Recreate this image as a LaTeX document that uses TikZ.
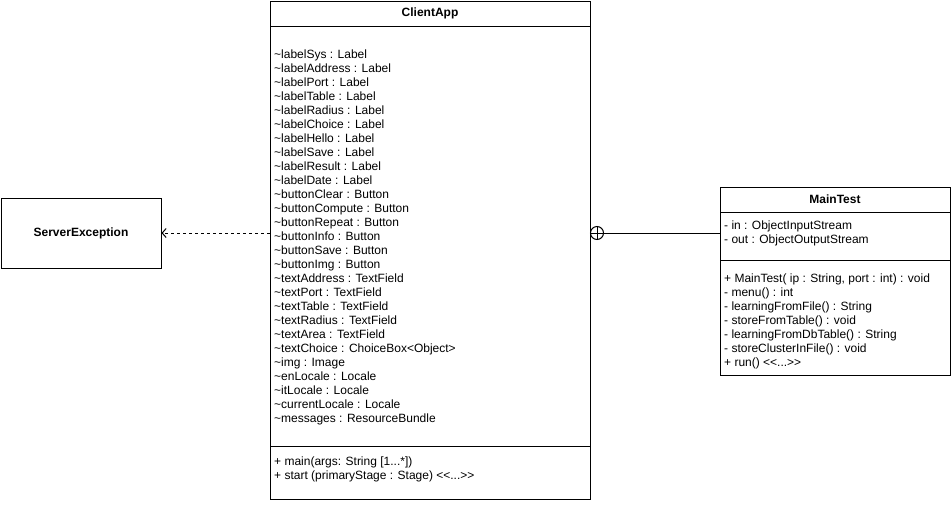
\documentclass[tikz,border=0pt]{standalone}
\usepackage{fontspec}
\setmainfont{Liberation Sans}[Ligatures=TeXOff]
\usepackage{tikz}
\usetikzlibrary{arrows.meta,shapes}

\tikzset{
	every node/.style={font=\fontsize{12}{14}\selectfont},
	cls/.style={draw, line width=1pt, inner sep=0pt},
	title/.style={font=\fontsize{12}{14}\selectfont\bfseries},
	mem/.style={anchor=west, inner sep=0pt, text height=10pt, text depth=2pt},
	dep/.style={line width=1pt, dash pattern=on 3pt off 3pt, -{Straight Barb[length=4pt,width=9pt]}},
	nest/.style={draw, circle, line width=1pt, inner sep=0pt, minimum size=13pt},
	link/.style={line width=1pt}
}

\begin{document}
\begin{tikzpicture}[x=1pt,y=-1pt]
	\useasboundingbox (0,0) rectangle (951,504);

	\node[cls, minimum width=320pt, minimum height=498pt] (app) at (430,250) {};
	\node[cls, minimum width=160pt, minimum height=70pt] (exc) at (81,233) {};
	\node[cls, minimum width=230pt, minimum height=188pt] (mt) at (835,281) {};

	\draw[line width=1pt] (270,26) -- (590,26);
	\draw[line width=1pt] (270,446) -- (590,446);
	\draw[line width=1pt] (720,212) -- (950,212);
	\draw[line width=1pt] (720,260) -- (950,260);

	\node[title] (t1) at (430,13) {ClientApp};
	\node[title] (t2) at (81,233) {ServerException};
	\node[title] (t3) at (835,199) {MainTest};

	\node[mem] (a1) at (274,54) {\textasciitilde labelSys : Label};
	\node[mem] (a2) at (274,68) {\textasciitilde labelAddress : Label};
	\node[mem] (a3) at (274,82) {\textasciitilde labelPort : Label};
	\node[mem] (a4) at (274,96) {\textasciitilde labelTable : Label};
	\node[mem] (a5) at (274,110) {\textasciitilde labelRadius : Label};
	\node[mem] (a6) at (274,124) {\textasciitilde labelChoice : Label};
	\node[mem] (a7) at (274,138) {\textasciitilde labelHello : Label};
	\node[mem] (a8) at (274,152) {\textasciitilde labelSave : Label};
	\node[mem] (a9) at (274,166) {\textasciitilde labelResult : Label};
	\node[mem] (a10) at (274,180) {\textasciitilde labelDate : Label};
	\node[mem] (a11) at (274,194) {\textasciitilde buttonClear : Button};
	\node[mem] (a12) at (274,208) {\textasciitilde buttonCompute : Button};
	\node[mem] (a13) at (274,222) {\textasciitilde buttonRepeat : Button};
	\node[mem] (a14) at (274,236) {\textasciitilde buttonInfo : Button};
	\node[mem] (a15) at (274,250) {\textasciitilde buttonSave : Button};
	\node[mem] (a16) at (274,264) {\textasciitilde buttonImg : Button};
	\node[mem] (a17) at (274,278) {\textasciitilde textAddress : TextField};
	\node[mem] (a18) at (274,292) {\textasciitilde textPort : TextField};
	\node[mem] (a19) at (274,306) {\textasciitilde textTable : TextField};
	\node[mem] (a20) at (274,320) {\textasciitilde textRadius : TextField};
	\node[mem] (a21) at (274,334) {\textasciitilde textArea : TextField};
	\node[mem] (a22) at (274,348) {\textasciitilde textChoice : ChoiceBox<Object>};
	\node[mem] (a23) at (274,362) {\textasciitilde img : Image};
	\node[mem] (a24) at (274,376) {\textasciitilde enLocale : Locale};
	\node[mem] (a25) at (274,390) {\textasciitilde itLocale : Locale};
	\node[mem] (a26) at (274,404) {\textasciitilde currentLocale : Locale};
	\node[mem] (a27) at (274,418) {\textasciitilde messages : ResourceBundle};
	\node[mem] (m1) at (274,461) {+ main(args: String [1...*])};
	\node[mem] (m2) at (274,475) {+ start (primaryStage : Stage) <<...>>};

	\node[mem] (b1) at (724,225) {- in : ObjectInputStream};
	\node[mem] (b2) at (724,239) {- out : ObjectOutputStream};
	\node[mem] (n1) at (724,278) {+ MainTest( ip : String, port : int) : void};
	\node[mem] (n2) at (724,292) {- menu() : int};
	\node[mem] (n3) at (724,306) {- learningFromFile() : String};
	\node[mem] (n4) at (724,320) {- storeFromTable() : void};
	\node[mem] (n5) at (724,334) {- learningFromDbTable() : String};
	\node[mem] (n6) at (724,348) {- storeClusterInFile() : void};
	\node[mem] (n7) at (724,362) {+ run() <<...>>};

	\node[nest] (ns) at (597,233) {};
	\draw[line width=1pt] (ns.north) -- (ns.south) (ns.west) -- (ns.east);

	\path [dep] (app.west |- exc.east) edge (exc.east);
	\path [link] (ns) edge (mt.west |- ns);
\end{tikzpicture}
\end{document}
